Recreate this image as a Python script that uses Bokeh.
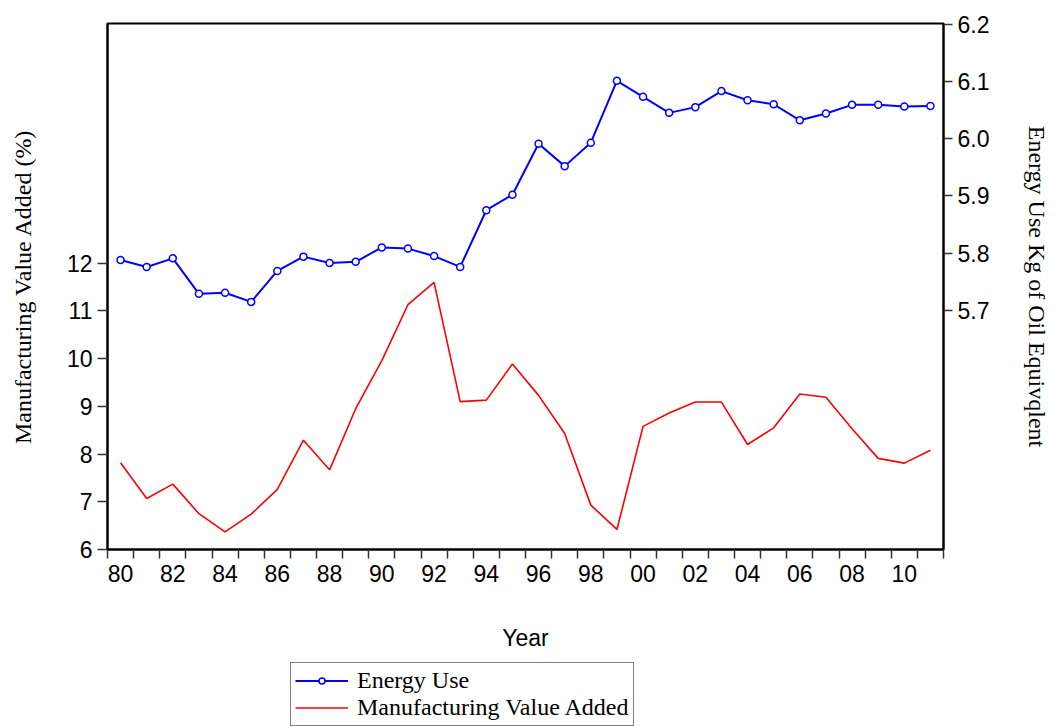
from bokeh.plotting import figure
from bokeh.layouts import column
from bokeh.models import (Range1d, LinearAxis, FixedTicker, NumeralTickFormatter,
                          Legend, LegendItem)
from bokeh.embed import file_html
from bokeh.resources import INLINE

# Annual series, 1980-2011
years = list(range(1980, 2012))

energy_use = [5.788, 5.776, 5.791, 5.729, 5.731, 5.715, 5.769, 5.794,
              5.783, 5.785, 5.810, 5.808, 5.795, 5.776, 5.875, 5.902,
              5.991, 5.952, 5.993, 6.101, 6.073, 6.045, 6.055, 6.083,
              6.067, 6.060, 6.032, 6.044, 6.059, 6.059, 6.056, 6.057]

manufacturing_va = [7.82, 7.07, 7.37, 6.75, 6.37, 6.74, 7.26, 8.29,
                    7.67, 8.95, 9.96, 11.13, 11.60, 9.10, 9.13, 9.89,
                    9.23, 8.43, 6.93, 6.42, 8.58, 8.86, 9.09, 9.09,
                    8.20, 8.55, 9.26, 9.19, 8.53, 7.91, 7.81, 8.08]

left_ticks = [6, 7, 8, 9, 10, 11, 12]
right_ticks = [5.7, 5.8, 5.9, 6.0, 6.1, 6.2]
label_years = list(range(1980, 2012, 2))
year_labels = {y: f"{y % 100:02d}" for y in label_years}

SANS = "Liberation Sans"
SERIF = "Liberation Serif"
BLUE = "#0000FF"
RED = "#FF0000"

p = figure(width=1054, height=660, output_backend="svg", toolbar_location=None,
           x_range=Range1d(1979.5, 2011.5), y_range=Range1d(6.0, 17.024),
           min_border_left=107, min_border_right=111, min_border_top=23,
           min_border_bottom=111)
p.extra_y_ranges = {"energy": Range1d(5.2827, 6.201)}

p.background_fill_color = "white"
p.border_fill_color = "white"
p.xgrid.visible = False
p.ygrid.visible = False
p.outline_line_color = "black"
p.outline_line_width = 2
p.outline_line_alpha = 1.0

# Bottom axis: labels at year centres, ticks at year boundaries
xa = p.xaxis[0]
xa.ticker = FixedTicker(ticks=label_years,
                        minor_ticks=[y - 0.5 for y in years] + [years[-1] + 0.5])
xa.major_label_overrides = year_labels
xa.major_tick_out = 0
xa.major_tick_in = 0
xa.minor_tick_out = 9
xa.minor_tick_in = 0
xa.minor_tick_line_color = "#333333"
xa.minor_tick_line_width = 1.5
xa.axis_line_color = "black"
xa.axis_line_width = 2
xa.major_label_text_font = SANS
xa.major_label_text_font_size = "23px"
xa.major_label_text_color = "black"
xa.major_label_standoff = 6
xa.axis_label = "Year"
xa.axis_label_text_font = SANS
xa.axis_label_text_font_size = "23px"
xa.axis_label_text_font_style = "normal"
xa.axis_label_text_color = "black"
xa.axis_label_standoff = 40

# Left axis: manufacturing value added
ya = p.yaxis[0]
ya.ticker = FixedTicker(ticks=left_ticks)
ya.minor_tick_out = 0
ya.minor_tick_in = 0
ya.major_tick_out = 10
ya.major_tick_in = 0
ya.major_tick_line_color = "#333333"
ya.major_tick_line_width = 1.5
ya.axis_line_color = "black"
ya.axis_line_width = 2
ya.major_label_text_font = SANS
ya.major_label_text_font_size = "23px"
ya.major_label_text_color = "black"
ya.major_label_standoff = 5
ya.axis_label = "Manufacturing Value Added (%)"
ya.axis_label_text_font = SERIF
ya.axis_label_text_font_size = "24px"
ya.axis_label_text_font_style = "normal"
ya.axis_label_text_color = "black"
ya.axis_label_standoff = 28

# Right axis: energy use
ra = LinearAxis(y_range_name="energy",
                ticker=FixedTicker(ticks=right_ticks),
                formatter=NumeralTickFormatter(format="0.0"))
ra.minor_tick_out = 0
ra.minor_tick_in = 0
ra.major_tick_out = 9
ra.major_tick_in = 0
ra.major_tick_line_color = "#333333"
ra.major_tick_line_width = 1.5
ra.axis_line_color = "black"
ra.axis_line_width = 2
ra.major_label_text_font = SANS
ra.major_label_text_font_size = "23px"
ra.major_label_text_color = "black"
ra.major_label_standoff = 5
ra.axis_label = "Energy Use Kg of Oil Equivqlent"
ra.axis_label_text_font = SERIF
ra.axis_label_text_font_size = "24px"
ra.axis_label_text_font_style = "normal"
ra.axis_label_text_color = "black"
ra.axis_label_standoff = 32
p.add_layout(ra, "right")

# Series
p.line(years, manufacturing_va, line_color=RED, line_width=1.6)
p.line(years, energy_use, y_range_name="energy", line_color=BLUE, line_width=2)
p.scatter(years, energy_use, y_range_name="energy", marker="circle",
          size=7, fill_color="white", line_color=BLUE, line_width=1.5)

# Key strip underneath the chart; its renderers reuse the series but sit
# outside the strip's own ranges, so only their legend swatches show.
key = figure(width=1054, height=66, output_backend="svg", toolbar_location=None,
             x_range=Range1d(0, 1), y_range=Range1d(0, 1),
             x_axis_type=None, y_axis_type=None,
             min_border_left=0, min_border_right=0, min_border_top=0,
             min_border_bottom=0)
key.outline_line_color = None
key.background_fill_color = "white"
key.border_fill_color = "white"
key.xgrid.visible = False
key.ygrid.visible = False

k_eu_line = key.line(years, energy_use, line_color=BLUE, line_width=2)
k_eu_pts = key.scatter(years, energy_use, marker="circle", size=7, fill_color="white",
                       line_color=BLUE, line_width=1.5)
k_mva_line = key.line(years, manufacturing_va, line_color=RED, line_width=1.6)

legend = Legend(items=[LegendItem(label="Energy Use", renderers=[k_eu_line, k_eu_pts]),
                       LegendItem(label="Manufacturing Value Added", renderers=[k_mva_line])],
                location=(183, 0), orientation="vertical",
                label_text_font=SERIF, label_text_font_size="24px",
                label_text_color="black",
                glyph_width=53, glyph_height=15, label_height=26,
                label_standoff=9, spacing=0, padding=4, margin=0,
                border_line_color="black", border_line_width=1,
                background_fill_color="white", background_fill_alpha=1.0)
key.add_layout(legend, "center")

open("out.html", "w").write(file_html(column(p, key, spacing=0), INLINE))
